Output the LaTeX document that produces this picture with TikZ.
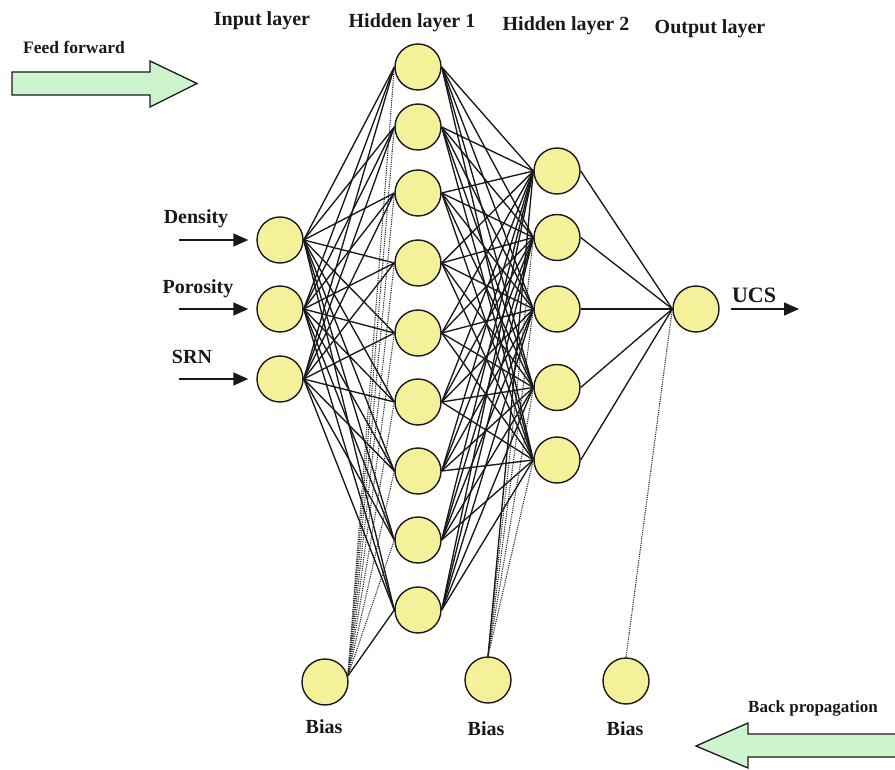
\documentclass[tikz,border=0pt]{standalone}
\usepackage{fontspec}
\setmainfont{Liberation Serif}
\usetikzlibrary{arrows.meta}
\definecolor{nodeyellow}{RGB}{245,241,155}
\definecolor{arrowgreen}{RGB}{206,244,206}
\begin{document}
\begin{tikzpicture}[x=1pt,y=-1pt,
  neuron/.style={circle,draw=black!90,line width=1.4pt,fill=nodeyellow,minimum size=46pt,inner sep=0pt},
  conn/.style={line width=1.35pt,draw=black!90},
  dotconn/.style={line width=1.1pt,draw=black!85,dash pattern=on 1.1pt off 1.1pt},
  lbl/.style={font=\bfseries\fontsize{20}{22}\selectfont,inner sep=0pt,anchor=base,text=black!90},
  smalllbl/.style={font=\bfseries\fontsize{17.5}{20}\selectfont,inner sep=0pt,anchor=base,text=black!90},
  inarrow/.style={line width=1.6pt,draw=black!90,-{Triangle[length=15pt,width=13pt]}},
  bigarrow/.style={draw=black!90,line width=1.3pt,fill=arrowgreen}]
\useasboundingbox (0,0) rectangle (895,770);

% neurons
\node[neuron] (i1) at (280,240) {};
\node[neuron] (i2) at (280,309) {};
\node[neuron] (i3) at (280,379) {};
\foreach \n/\y in {1/67,2/127,3/193,4/263,5/333,6/402,7/471,8/540,9/610}
  \node[neuron] (h\n) at (418,\y) {};
\foreach \n/\y in {1/171,2/237.5,3/309,4/387.5,5/460}
  \node[neuron] (k\n) at (557,\y) {};
\node[neuron] (o) at (696,309) {};
\node[neuron] (b1) at (325,682) {};
\node[neuron] (b2) at (488,680) {};
\node[neuron] (b3) at (626,681) {};

% connections
\foreach \i in {1,2,3}
  \foreach \j in {1,...,9}
    \draw[conn] (i\i.east) -- (h\j.west);
\foreach \i in {1,...,9}
  \foreach \j in {1,...,5}
    \draw[conn] (h\i.east) -- (k\j.west);
\foreach \j in {1,...,5}
  \draw[conn] (k\j.east) -- (o.west);
\foreach \j in {1,...,8}
  \draw[dotconn] (b1.15) -- (h\j.west);
\draw[conn] (b1.15) -- (h9.west);
\draw[conn] (b2.north) -- (k1.west);
\foreach \j in {2,...,5}
  \draw[dotconn] (b2.north) -- (k\j.west);
\draw[dotconn] (b3.north) -- (o.west);

% input / output arrows
\coordinate (da) at (179,240);
\coordinate (pa) at (179,309);
\coordinate (sa) at (179,379);
\coordinate (ua) at (799,309);
\draw[inarrow,shorten >=8pt] (da) -- (i1.west);
\draw[inarrow,shorten >=8pt] (pa) -- (i2.west);
\draw[inarrow,shorten >=8pt] (sa) -- (i3.west);
\draw[inarrow,shorten <=11pt] (o.east) -- (ua);

% labels
\node[lbl] (tin) at (262,26) {Input layer};
\node[lbl] (th1) at (412,27.5) {Hidden layer 1};
\node[lbl] (th2) at (566,30.5) {Hidden layer 2};
\node[lbl] (tout) at (710,34) {Output layer};
\node[lbl] (ld) at (196,224) {Density};
\node[lbl] (lp) at (198,294) {Porosity};
\node[lbl] (ls) at (192,363) {SRN};
\node[lbl,font=\bfseries\fontsize{22}{24}\selectfont] (lu) at (754,302) {UCS};
\node[lbl] (lb1) at (324,733) {Bias};
\node[lbl] (lb2) at (486,735) {Bias};
\node[lbl] (lb3) at (625,735) {Bias};
\node[smalllbl] (lff) at (74,54) {Feed forward};
\node[smalllbl,font=\bfseries\fontsize{17}{20}\selectfont] (lbp) at (813,712) {Back propagation};

% big arrows
\draw[bigarrow] (12,72) -- (150,72) -- (150,61) -- (197,83.5) -- (150,107) -- (150,95) -- (12,95) -- cycle;
\draw[bigarrow] (905,734) -- (748,734) -- (748,723) -- (696,746) -- (748,768) -- (748,757) -- (905,757);
\end{tikzpicture}
\end{document}
